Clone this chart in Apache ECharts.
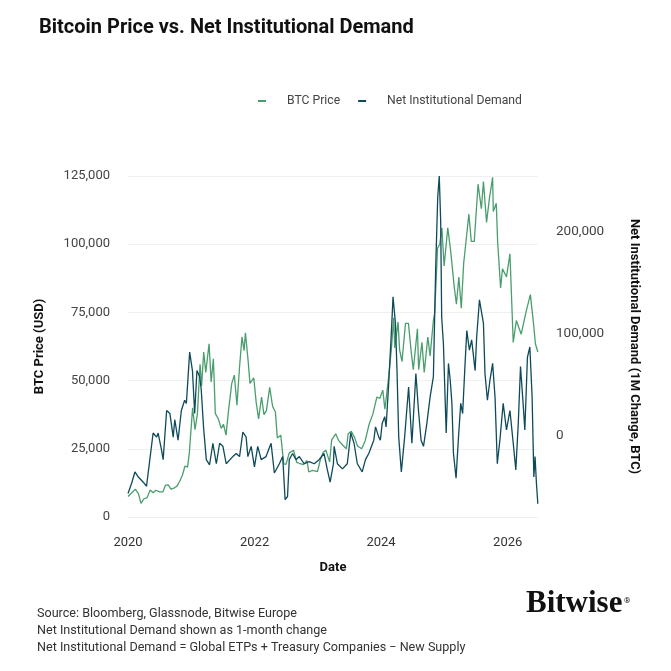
<!DOCTYPE html>
<html>
<head>
<meta charset="utf-8">
<script src="https://cdn.jsdelivr.net/npm/echarts@6/dist/echarts.min.js"></script>
<style>
  html, body { margin: 0; padding: 0; background: #fff; }
  #chart { width: 671px; height: 671px; }
</style>
</head>
<body>
<div id="chart"></div>
<script>
// BTC price (USD)
let btcDates = [
  '2020-01-01','2020-01-20','2020-02-12','2020-03-01','2020-03-16','2020-04-01','2020-04-20','2020-05-08','2020-05-25','2020-06-10',
  '2020-07-01','2020-07-20','2020-08-05','2020-08-20','2020-09-05','2020-09-25','2020-10-10','2020-10-25','2020-11-10','2020-11-25',
  '2020-12-10','2020-12-20','2021-01-08','2021-01-22','2021-02-05','2021-02-20','2021-03-01','2021-03-13','2021-03-25','2021-04-13',
  '2021-04-25','2021-05-08','2021-05-19','2021-06-05','2021-06-22','2021-07-05','2021-07-20','2021-08-05','2021-08-22','2021-09-06',
  '2021-09-21','2021-10-06','2021-10-20','2021-11-01','2021-11-09','2021-11-25','2021-12-05','2021-12-27','2022-01-10','2022-01-24',
  '2022-02-10','2022-02-24','2022-03-10','2022-03-29','2022-04-15','2022-05-01','2022-05-12','2022-06-01','2022-06-18','2022-07-01',
  '2022-07-20','2022-08-14','2022-09-01','2022-09-15','2022-10-10','2022-10-30','2022-11-10','2022-12-01','2022-12-30','2023-01-15',
  '2023-02-01','2023-02-16','2023-03-10','2023-03-22','2023-04-14','2023-05-01','2023-05-25','2023-06-15','2023-06-25','2023-07-13',
  '2023-08-01','2023-08-18','2023-09-11','2023-10-01','2023-10-24','2023-11-15','2023-12-08','2023-12-25','2024-01-11','2024-01-23',
  '2024-02-15','2024-03-01','2024-03-14','2024-03-20','2024-04-08','2024-04-17','2024-05-01','2024-05-21','2024-06-07','2024-06-24',
  '2024-07-05','2024-07-29','2024-08-05','2024-08-24','2024-09-06','2024-09-27','2024-10-10','2024-10-29','2024-11-06','2024-11-22',
  '2024-12-05','2024-12-17','2024-12-30','2025-01-20','2025-02-05','2025-02-27','2025-03-11','2025-03-25','2025-04-08','2025-04-22',
  '2025-05-22','2025-06-05','2025-06-22','2025-07-14','2025-08-02','2025-08-14','2025-09-01','2025-09-18','2025-10-06','2025-10-10',
  '2025-10-27','2025-11-04','2025-11-21','2025-12-02','2025-12-25','2026-01-14','2026-02-02','2026-02-20','2026-03-20','2026-04-20',
  '2026-05-12','2026-05-30','2026-06-10','2026-06-24'
];
let btcPrice = [
  7500,8700,10200,8600,5000,6600,7100,9900,8900,9800,
  9200,9200,11700,11800,10200,10700,11300,13000,15300,18700,
  18300,23500,40000,32000,38000,56000,48000,60500,53000,63500,
  49500,58000,38000,36000,32500,34000,30000,40000,49000,52000,
  41000,55000,66000,61000,67500,57000,49000,51000,42000,36000,
  44000,37500,39000,47500,40500,38500,29000,30000,19500,19300,
  23500,24400,20000,19700,19200,20700,16500,17100,16600,20900,
  23700,24500,20200,28300,30500,28000,26300,25000,30500,31400,
  29200,26000,25000,27900,34000,37800,44000,43500,46500,39500,
  52000,62000,73000,62000,71500,61300,57000,71000,71000,60000,
  54000,69000,54000,64000,53000,66000,59000,72000,75000,98500,
  100000,106000,92000,106000,98000,84000,78000,88000,76500,93000,
  111000,101000,101000,122000,113000,123000,108000,117000,124500,112000,
  115000,101000,84000,91000,88000,96500,64000,72000,67000,76000,
  81500,71000,63500,60500
];

// Net institutional demand, 1-month change (BTC)
let demandDates = [
  '2020-01-01','2020-01-22','2020-02-10','2020-03-01','2020-03-29','2020-04-17','2020-05-06','2020-05-25','2020-06-14','2020-06-23',
  '2020-07-13','2020-07-22','2020-08-11','2020-08-30','2020-09-18','2020-09-27','2020-10-16','2020-11-04','2020-11-23','2020-12-03',
  '2020-12-22','2021-01-07','2021-01-20','2021-02-02','2021-02-18','2021-02-27','2021-03-12','2021-03-28','2021-04-16','2021-05-05',
  '2021-05-25','2021-06-13','2021-07-02','2021-07-21','2021-08-28','2021-09-17','2021-10-06','2021-10-25','2021-11-13','2021-11-23',
  '2021-12-12','2021-12-31','2022-01-19','2022-02-08','2022-03-08','2022-04-06','2022-04-25','2022-05-24','2022-06-12','2022-06-26',
  '2022-07-10','2022-07-20','2022-08-08','2022-08-28','2022-09-16','2022-10-14','2022-11-12','2022-12-11','2023-01-08','2023-02-06',
  '2023-02-25','2023-03-13','2023-04-01','2023-04-05','2023-04-24','2023-05-23','2023-06-20','2023-07-10','2023-07-29','2023-08-17',
  '2023-09-14','2023-10-03','2023-10-22','2023-11-20','2023-11-30','2023-12-19','2023-12-28','2024-01-07','2024-01-22','2024-01-30',
  '2024-02-14','2024-03-01','2024-03-10','2024-03-24','2024-04-02','2024-04-12','2024-04-27','2024-05-16','2024-06-08','2024-06-27',
  '2024-07-20','2024-08-04','2024-08-19','2024-09-02','2024-09-21','2024-10-10','2024-10-29','2024-11-11','2024-11-23','2024-12-02',
  '2024-12-10','2024-12-16','2024-12-26','2025-01-11','2025-01-24','2025-02-03','2025-02-13','2025-02-22','2025-03-09','2025-03-23',
  '2025-04-05','2025-04-16','2025-04-30','2025-05-10','2025-05-25','2025-06-07','2025-06-27','2025-07-06','2025-07-22','2025-08-04',
  '2025-08-14','2025-08-23','2025-09-06','2025-09-21','2025-10-06','2025-10-20','2025-11-02','2025-11-17','2025-12-06','2025-12-25',
  '2026-01-14','2026-02-02','2026-02-17','2026-03-03','2026-03-16','2026-03-31','2026-04-10','2026-04-25','2026-05-09','2026-05-22',
  '2026-06-01','2026-06-08','2026-06-16','2026-06-24'
];
let demandValues = [
  -56000,-46000,-35000,-40000,-45000,-49000,-23000,3000,-1000,3000,
  -14000,-23000,25000,22000,-1000,16000,-4000,25000,35000,32000,
  82000,64000,22000,64000,58000,45000,9000,-23000,-28000,-7000,
  -27000,-7000,-10000,-27000,-20000,-17000,-20000,4000,-1000,-20000,
  -10000,-30000,-10000,-23000,-20000,-7000,-36000,-27000,-20000,-62000,
  -59000,-23000,-17000,-23000,-20000,-27000,-25000,-27000,-23000,-17000,
  -33000,-45000,-27000,-10000,-27000,-32000,-27000,3000,-7000,-27000,
  -35000,-23000,-17000,-4000,9000,-1000,-4000,12000,19000,9000,
  51000,103000,136000,110000,64000,-1000,-35000,-1000,48000,-7000,
  61000,25000,-4000,-10000,12000,38000,58000,162000,233000,254000,
  211000,116000,90000,3000,71000,55000,32000,-17000,-41000,-1000,
  32000,22000,71000,103000,84000,94000,64000,97000,133000,120000,
  110000,61000,35000,55000,71000,38000,-27000,-4000,32000,6000,
  25000,-7000,-33000,12000,68000,32000,6000,77000,87000,38000,
  -40000,-20000,-46000,-66000
];

let yearTicks = ['2020-01-01','2022-01-01','2024-01-01','2026-01-01'];
let priceTicks = [0,25000,50000,75000,100000,125000];
let demandTicks = [0,100000,200000];

let ts = d => Date.parse(d + 'T00:00:00Z');
let fmt = v => Number(v).toLocaleString('en-US');
let font = 'Roboto, "Liberation Sans", sans-serif';

let myChart = echarts.init(document.getElementById('chart'));

myChart.setOption({
  backgroundColor:'#fff',
  animation:false,
  textStyle:{fontFamily:font},
  title:{
    text:'Bitcoin Price vs. Net Institutional Demand',
    left:34,
    top:13,
    textStyle:{fontSize:20,fontWeight:'bold',color:'#111',fontFamily:font}
  },
  legend:{
    left:253,
    top:90,
    itemWidth:8,
    itemHeight:2,
    itemGap:18,
    icon:'rect',
    textStyle:{fontSize:12.2,color:'#444',padding:[0,0,0,16]},
    data:['BTC Price','Net Institutional Demand']
  },
  grid:{left:128,right:133,top:176,bottom:154,containLabel:false},
  xAxis:{
    type:'value',
    min:ts('2020-01-01'),
    max:ts('2026-06-25'),
    name:'Date',
    nameLocation:'middle',
    nameGap:44,
    nameTextStyle:{fontSize:13,fontWeight:'bold',color:'#111'},
    axisLine:{show:false},
    axisTick:{show:false},
    splitLine:{show:false},
    axisLabel:{
      customValues:yearTicks.map(ts),
      formatter:v => String(new Date(v).getUTCFullYear()),
      fontSize:13,
      color:'#333',
      margin:19
    }
  },
  yAxis:[
    {
      type:'value',
      min:0,
      max:125000,
      interval:25000,
      name:'BTC Price (USD)',
      nameLocation:'middle',
      nameGap:82,
      nameTextStyle:{fontSize:13,fontWeight:'bold',color:'#111'},
      axisLine:{show:false},
      axisTick:{show:false},
      splitLine:{lineStyle:{color:'#f0f0f0',width:1}},
      axisLabel:{formatter:fmt,fontSize:13,color:'#444',margin:18}
    },
    {
      type:'value',
      min:-79000,
      max:254000,
      position:'right',
      name:'Net Institutional Demand (1M Change, BTC)',
      nameLocation:'middle',
      nameRotate:-90,
      nameGap:90,
      nameTextStyle:{fontSize:13,fontWeight:'bold',color:'#111'},
      axisLine:{show:false},
      axisTick:{show:false},
      splitLine:{show:false},
      axisLabel:{customValues:demandTicks,formatter:fmt,fontSize:13.5,color:'#444',margin:18}
    }
  ],
  series:[
    {
      name:'BTC Price',
      type:'line',
      yAxisIndex:0,
      showSymbol:false,
      color:'#4a9e6e',
      lineStyle:{width:1.3},
      data:btcDates.map((d,i) => [ts(d),btcPrice[i]])
    },
    {
      name:'Net Institutional Demand',
      type:'line',
      yAxisIndex:1,
      showSymbol:false,
      color:'#0f4a5a',
      lineStyle:{width:1.3},
      data:demandDates.map((d,i) => [ts(d),demandValues[i]])
    }
  ],
  graphic:[
    {
      type:'text',
      left:37,
      top:605,
      style:{
        text:'Source: Bloomberg, Glassnode, Bitwise Europe\nNet Institutional Demand shown as 1-month change\nNet Institutional Demand = Global ETPs + Treasury Companies \u2212 New Supply',
        fontSize:12.6,
        lineHeight:17,
        fill:'#333',
        fontFamily:font
      }
    },
    {
      type:'text',
      left:526,
      top:588,
      style:{
        text:'Bitwise',
        fontSize:31,
        fontWeight:'bold',
        fill:'#111',
        fontFamily:'"Liberation Serif", "DejaVu Serif", serif'
      }
    },
    {
      type:'text',
      left:624,
      top:597,
      style:{text:'\u00ae',fontSize:8,fill:'#111',fontFamily:font}
    }
  ]
});
</script>
</body>
</html>
